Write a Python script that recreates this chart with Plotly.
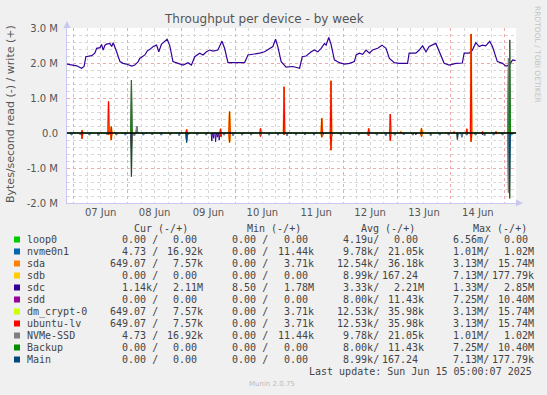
import plotly.graph_objects as go
from datetime import datetime, timedelta

# ---------------- data (hours relative to 2025-06-07 00:00, values in MB/s) -------------
T0 = datetime(2025, 6, 7)
X_START_H, X_END_H = -3, 197

sdc_w_hours = [-3.1, 1.3, 3.5, 4.6, 5.4, 8.0, 9.4, 10.2, 11.7, 12.4, 13.1, 13.9, 14.6, 16.1, 16.9, 17.6,
               19.1, 20.6, 22.0, 23.5, 25.8, 27.2, 28.7, 29.4, 31.7, 32.7, 33.9, 35.4, 36.9, 37.9, 39.1,
               40.6, 41.6, 42.8, 44.2, 46.5, 48.7, 50.9, 52.4, 53.9, 56.1, 57.6, 59.1, 60.6, 62.0, 64.2,
               66.0, 67.2, 68.7, 72.4, 76.1, 77.6, 79.8, 82.8, 85.0, 87.2, 88.7, 89.9, 90.9, 92.4, 94.6,
               97.6, 100.6, 101.8, 103.5, 105.8, 107.2, 108.7, 110.2, 111.7, 112.4, 113.6, 114.6, 116.1,
               118.3, 120.6, 122.8, 125.0, 125.8, 127.2, 128.7, 130.2, 131.7, 133.1, 135.4, 137.3, 139.1,
               140.6, 142.8, 145.0, 148.7, 149.4, 152.4, 153.9, 155.4, 156.9, 158.3, 161.3, 162.8, 165.0,
               167.2, 170.2, 173.1, 173.9, 176.1, 177.6, 179.1, 180.6, 182.0, 183.5, 185.3, 186.5, 188.7,
               191.0, 192.5, 194.0, 195.5, 196.8]
sdc_w_vals = [1.97, 1.92, 1.85, 1.90, 2.18, 2.21, 2.28, 2.42, 2.44, 2.53, 2.37, 2.51, 2.54, 2.56, 2.47, 2.58,
              2.32, 2.04, 1.99, 1.97, 1.91, 1.94, 2.04, 2.13, 2.23, 2.34, 2.39, 2.47, 2.51, 2.32, 2.54,
              2.61, 2.68, 2.49, 2.04, 1.99, 1.94, 2.01, 1.94, 2.18, 2.28, 2.23, 2.32, 2.37, 2.34, 2.37,
              2.62, 2.42, 2.01, 2.01, 2.01, 2.23, 2.25, 2.28, 2.32, 2.42, 2.47, 2.68, 2.47, 2.04, 1.88,
              1.90, 1.85, 2.18, 2.20, 2.32, 2.37, 2.32, 2.42, 2.56, 2.51, 2.73, 2.54, 2.09,
              2.01, 1.97, 1.99, 2.04, 2.23, 2.28, 2.25, 2.37, 2.28, 2.37, 2.42, 2.51, 2.42,
              2.13, 2.01, 1.99, 1.99, 2.28, 2.28, 2.37, 2.49, 2.32, 2.47, 2.56, 2.32, 1.99,
              1.94, 1.99, 2.00, 2.28, 2.28, 2.37, 2.58, 2.47, 2.51, 2.49, 2.62, 2.47, 2.04,
              1.99, 1.91, 1.94, 2.09, 2.07]

sdc_r_hours = [61.5, 62.3, 63.2, 64.0, 64.8, 65.7, 152.4, 182.1]
sdc_r_vals = [-0.23, -0.15, -0.25, -0.12, -0.20, -0.10, -0.05, -0.05]

# ubuntu-lv (sda and dm_crypt-0 carry the same traffic)
lv_hours = [3.7, 15.5, 16.7, 25.7, 50.3, 65.4, 69.4, 83.2, 93.7, 110.5, 114.6, 131.4, 141.0,
            145.7, 154.9, 169.4, 175.1, 177.0, 182.1, 188.1, 194.2]
lv_w_vals = [0.08, 0.90, 0.18, 0.10, 0.10, 0.12, 0.61, 0.13, 1.32, 0.42, 1.49, 0.13, 0.54,
             0.03, 0.13, 0.03, 0.12, 2.83, 0.04, 0.04, 0.23]
lv_r_vals = [-0.17, -0.05, -0.20, -0.40, -0.15, -0.10, -0.27, -0.10, -0.05, -0.12, -0.49, -0.08, -0.22,
             0.0, -0.10, 0.0, -0.05, -0.25, -0.02, -0.02, -0.05]

# Backup (sdd identical)
backup_hours = [25.7, 194.2]
backup_w_vals = [1.51, 2.66]

# Main (sdb identical)
main_hours = [25.7, 50.3, 170.9, 194.2]
main_r_vals = [-1.25, -0.28, -0.19, -1.87]

# NVMe-SSD (nvme0n1 identical)
nvme_r_hours = [-1, 3, 7, 11, 15, 19, 23, 27, 31, 35, 39, 43, 47, 51, 55, 59, 63, 67, 71, 75, 79, 83,
                87, 91, 95, 99, 103, 107, 111, 115, 119, 123, 127, 131, 135, 139, 143, 147, 151, 155,
                159, 163, 167, 171, 175, 179, 183, 187, 191, 195, 50.3, 172.9, 193.7]
nvme_r_vals = [-0.06, -0.05, -0.06, -0.07, -0.05, -0.06, -0.06, -0.07, -0.06, -0.05, -0.06, -0.06,
               -0.07, -0.05, -0.06, -0.06, -0.05, -0.06, -0.07, -0.06, -0.06, -0.05, -0.06, -0.06,
               -0.07, -0.06, -0.05, -0.06, -0.06, -0.07, -0.06, -0.05, -0.06, -0.06, -0.06, -0.07,
               -0.06, -0.05, -0.06, -0.06, -0.07, -0.06, -0.06, -0.05, -0.06, -0.06, -0.07, -0.06,
               -0.06, -0.06, -0.20, -0.12, -1.70]
nvme_w_hours = [28.1, 193.7]
nvme_w_vals = [0.20, 2.14]

# legend table
names = ["loop0", "nvme0n1", "sda", "sdb", "sdc", "sdd", "dm_crypt-0", "ubuntu-lv", "NVMe-SSD", "Backup", "Main"]
colors = ["#00CC00", "#0066B3", "#FF8000", "#FFCC00", "#330099", "#990099", "#CCFF00", "#FF0000",
          "#808080", "#008F00", "#00487D"]
cur_r = ["  0.00 /", "  4.73 /", "649.07 /", "  0.00 /", "  1.14k/", "  0.00 /", "649.07 /", "649.07 /", "  4.73 /", "  0.00 /", "  0.00 /"]
cur_w = ["  0.00 ", " 16.92k", "  7.57k", "  0.00 ", "  2.11M", "  0.00 ", "  7.57k", "  7.57k", " 16.92k", "  0.00 ", "  0.00 "]
min_r = ["  0.00 /", "  0.00 /", "  0.00 /", "  0.00 /", "  8.50 /", "  0.00 /", "  0.00 /", "  0.00 /", "  0.00 /", "  0.00 /", "  0.00 /"]
min_w = ["  0.00 ", " 11.44k", "  3.71k", "  0.00 ", "  1.78M", "  0.00 ", "  3.71k", "  3.71k", " 11.44k", "  0.00 ", "  0.00 "]
avg_r = ["  4.19u/", "  9.78k/", " 12.54k/", "  8.99k/", "  3.33k/", "  8.00k/", " 12.53k/", " 12.53k/", "  9.78k/", "  8.00k/", "  8.99k/"]
avg_w = ["  0.00 ", " 21.05k", " 36.18k", "167.24 ", "  2.21M", " 11.43k", " 35.98k", " 35.98k", " 21.05k", " 11.43k", "167.24 "]
max_r = ["  6.56m/", "  1.01M/", "  3.13M/", "  7.13M/", "  1.33M/", "  7.25M/", "  3.13M/", "  3.13M/", "  1.01M/", "  7.25M/", "  7.13M/"]
max_w = ["  0.00 ", "  1.02M", " 15.74M", "177.79k", "  2.85M", " 10.40M", " 15.74M", " 15.74M", "  1.02M", " 10.40M", "177.79k"]
headers = ["Cur (-/+)", "Min (-/+)", "Avg (-/+)", "Max (-/+)"]
last_update = "Last update: Sun Jun 15 05:00:07 2025"

# ---------------- helpers -------------
def tt(h):
    return T0 + timedelta(hours=h)

def spikes(hours, vals, half=0.3):
    xs, ys = [], []
    for h, v in zip(hours, vals):
        if v == 0:
            continue
        xs += [tt(h - half), tt(h), tt(h + half), None]
        ys += [0, v * 1e6, 0, None]
    return xs, ys

def line(xy, color, width=1):
    return go.Scatter(x=xy[0], y=xy[1], mode="lines", line=dict(color=color, width=width),
                      showlegend=False, hoverinfo="skip", connectgaps=False)

col = dict(zip(names, colors))
fig = go.Figure()
# draw in munin order
fig.add_trace(line(([tt(X_START_H), tt(X_END_H)], [0, 0]), col["loop0"]))
fig.add_trace(line(spikes(nvme_r_hours, nvme_r_vals), col["nvme0n1"], 1.6))
fig.add_trace(line(spikes(nvme_w_hours, nvme_w_vals), col["nvme0n1"], 1.6))
fig.add_trace(line(spikes(lv_hours, lv_r_vals), col["sda"], 1.6))
fig.add_trace(line(spikes(lv_hours, lv_w_vals), col["sda"], 1.6))
fig.add_trace(line(spikes(main_hours, main_r_vals), col["sdb"]))
fig.add_trace(line(spikes(sdc_r_hours, sdc_r_vals), col["sdc"]))
fig.add_trace(line(([tt(h) for h in sdc_w_hours], [v * 1e6 for v in sdc_w_vals]), col["sdc"], 1.2))
fig.add_trace(line(spikes(backup_hours, backup_w_vals), col["sdd"]))
fig.add_trace(line(spikes(lv_hours, lv_r_vals), col["dm_crypt-0"]))
fig.add_trace(line(spikes(lv_hours, lv_w_vals), col["dm_crypt-0"]))
fig.add_trace(line(spikes(lv_hours, lv_r_vals), col["ubuntu-lv"]))
fig.add_trace(line(spikes(lv_hours, lv_w_vals), col["ubuntu-lv"]))
fig.add_trace(line(spikes(nvme_r_hours, nvme_r_vals), col["NVMe-SSD"]))
fig.add_trace(line(spikes(nvme_w_hours, nvme_w_vals), col["NVMe-SSD"]))
fig.add_trace(line(spikes(backup_hours, backup_w_vals), col["Backup"], 1.2))
fig.add_trace(line(spikes(main_hours, main_r_vals), col["Main"], 1.2))

# ---------------- layout -------------
W, H = 547, 395
L, R, TOP, B = 67, 31, 28, 192
PW, PH = W - L - R, H - TOP - B

def px(x):
    return (x - L) / PW

def py(y):
    return (H - B - y) / PH

SANS = "DejaVu Sans"
MONO = "DejaVu Sans Mono"
TXT = "#555555"
major_grid = "#F2A8A8"
minor_grid = "#D8D8D8"
axis_col = "#C8C8F0"

fig.update_layout(
    width=W, height=H, margin=dict(l=L, r=R, t=TOP, b=B, pad=0),
    paper_bgcolor="#F0F0F0", plot_bgcolor="#FFFFFF", showlegend=False,
    font=dict(family=SANS, size=10, color=TXT),
)
fig.update_xaxes(
    type="date", range=[tt(X_START_H), tt(X_END_H)],
    tick0="2025-06-07", dtick=86400000, tickformat="%d %b", ticklabelmode="period",
    showgrid=True, gridcolor=major_grid, griddash="dot", gridwidth=1,
    minor=dict(dtick=21600000, showgrid=True, gridcolor=minor_grid, griddash="dot", gridwidth=1),
    ticks="", showline=True, linecolor=axis_col, linewidth=1, zeroline=False,
    tickfont=dict(family=SANS, size=10, color=TXT),
)
fig.update_yaxes(
    range=[-2e6, 3e6],
    tickvals=[-2e6, -1e6, 0, 1e6, 2e6, 3e6],
    ticktext=["-2.0 M", "-1.0 M", "0.0", "1.0 M", "2.0 M", "3.0 M"],
    showgrid=True, gridcolor=major_grid, griddash="dot", gridwidth=1,
    minor=dict(dtick=200000, tick0=0, showgrid=True, gridcolor=minor_grid, griddash="dot", gridwidth=1),
    ticks="", ticklabelstandoff=6, showline=True, linecolor=axis_col, linewidth=1, zeroline=False,
    tickfont=dict(family=SANS, size=10, color=TXT),
)

shapes = []
# zero rule
shapes.append(dict(type="line", xref="paper", yref="y", x0=0, x1=1, y0=0, y1=0,
                   line=dict(color="#000000", width=1.6), layer="above"))
# axis arrows
shapes.append(dict(type="path", xref="paper", yref="paper", fillcolor=axis_col, line=dict(width=0),
                   path=f"M {px(63.5)} {py(28)} L {px(70.5)} {py(28)} L {px(67)} {py(21)} Z"))
shapes.append(dict(type="path", xref="paper", yref="paper", fillcolor=axis_col, line=dict(width=0),
                   path=f"M {px(516)} {py(199.5)} L {px(516)} {py(206.5)} L {px(523)} {py(203)} Z"))

ann = []
def text(x, y, s, size=10, family=MONO, color="#444444", xanchor="left", angle=0):
    ann.append(dict(x=px(x), y=py(y), xref="paper", yref="paper", text=s.replace(" ", "\u00a0"),
                    showarrow=False, xanchor=xanchor, yanchor="middle", textangle=angle,
                    font=dict(family=family, size=size, color=color), borderpad=0))

text(264, 19, "Throughput per device - by week", size=12, family=SANS, color=TXT, xanchor="center")
text(10, 114, "Bytes/second read (-) / write (+)", size=11, family=SANS, color=TXT, xanchor="center", angle=-90)
text(538, 54, "RRDTOOL / TOBI OETIKER", size=7.5, family=SANS, color="#C4C4C4", xanchor="center", angle=90)
text(248, 384, "Munin 2.0.75", size=7, family=SANS, color="#BBBBBB")

for hx, hdr in zip([133, 246, 359.5, 472], headers):
    text(hx, 228.3, hdr)
cols_r = [(109, cur_r), (219, min_r), (330, avg_r), (440, max_r)]
cols_w = [(160, cur_w), (270.5, min_w), (381, avg_w), (491, max_w)]
for i, nm in enumerate(names):
    yy = 239.5 + 12 * i
    shapes.append(dict(type="rect", xref="paper", yref="paper", x0=px(14), x1=px(20),
                       y0=py(yy - 3), y1=py(yy + 3), fillcolor=colors[i], line=dict(width=0)))
    text(25.5, yy, nm)
    for x0, arr in cols_r:
        text(x0, yy, arr[i])
    for x0, arr in cols_w:
        text(x0, yy, arr[i])
text(533, 371.3, last_update, xanchor="right")

fig.update_layout(shapes=shapes, annotations=ann)
fig.write_html("out.html", config={"displayModeBar": False},
               post_script="document.body.style.margin='0px';document.body.style.padding='0px';")
